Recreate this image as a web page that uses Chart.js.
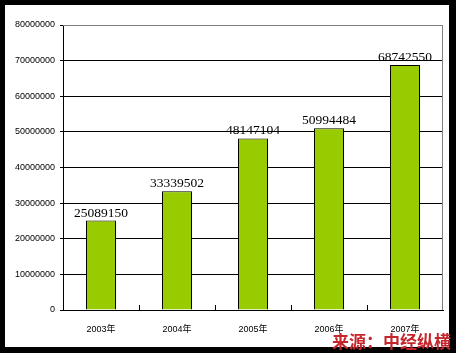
<!DOCTYPE html>
<html>
<head>
<meta charset="utf-8">
<script src="https://cdn.jsdelivr.net/npm/chart.js@4/dist/chart.umd.min.js"></script>
<style>
  html, body { margin: 0; padding: 0; background: #000; }
  #wrap { position: relative; width: 456px; height: 353px; background: #000; }
  #inner { position: absolute; left: 5px; top: 5px; width: 444px; height: 342px; background: #fff; }
  canvas { position: absolute; left: 0; top: 0; }
  #src { position: absolute; left: 332px; top: 331px; font: bold 17px "Noto Sans CJK SC", sans-serif; color: #c4262b; white-space: nowrap; line-height: 20px; }
</style>
</head>
<body>
<div id="wrap">
  <div id="inner"></div>
  <canvas id="c" width="456" height="353"></canvas>
  <div id="src">来源：中经纵横</div>
</div>
<script>
const categories = ["2003年", "2004年", "2005年", "2006年", "2007年"];
const values = [25089150, 33339502, 48147104, 50994484, 68742550];
const yTicks = [0, 10000000, 20000000, 30000000, 40000000, 50000000, 60000000, 70000000, 80000000];

const framePlugin = {
  id: 'frame',
  beforeDatasetsDraw(chart) {
    const { ctx, chartArea: a, scales: { x } } = chart;
    ctx.save();
    ctx.strokeStyle = '#808080';
    ctx.lineWidth = 1;
    ctx.beginPath();
    ctx.moveTo(a.left, a.top + 0.5);
    ctx.lineTo(a.right - 0.5, a.top + 0.5);
    ctx.lineTo(a.right - 0.5, a.bottom);
    ctx.stroke();
    ctx.strokeStyle = '#000';
    const n = categories.length;
    for (let i = 1; i < n; i++) {
      const px = Math.round((x.getPixelForValue(i - 1) + x.getPixelForValue(i)) / 2) + 0.5;
      ctx.beginPath();
      ctx.moveTo(px, a.bottom);
      ctx.lineTo(px, a.bottom - 5);
      ctx.stroke();
    }
    ctx.restore();
  },
  afterDatasetsDraw(chart) {
    const { ctx } = chart;
    const meta = chart.getDatasetMeta(0);
    ctx.save();
    ctx.font = '13.5px "Liberation Serif", serif';
    ctx.fillStyle = '#000';
    ctx.textAlign = 'center';
    ctx.textBaseline = 'alphabetic';
    meta.data.forEach((bar, i) => {
      ctx.fillText(String(values[i]), bar.x, bar.y - 4);
    });
    ctx.restore();
  }
};

new Chart(document.getElementById('c'), {
  type: 'bar',
  data: {
    labels: categories,
    datasets: [{
      data: values,
      backgroundColor: '#99cc00',
      borderColor: '#000',
      borderWidth: 1,
      borderSkipped: 'bottom',
      barPercentage: 0.395,
      categoryPercentage: 1.0
    }]
  },
  options: {
    responsive: false,
    animation: false,
    devicePixelRatio: 1,
    layout: { padding: { top: 25, right: 13, left: 0, bottom: 0 } },
    plugins: { legend: { display: false }, tooltip: { enabled: false } },
    scales: {
      x: {
        grid: { display: false },
        border: { display: true, color: '#000', width: 1 },
        ticks: { color: '#000', font: { family: '"Liberation Sans", "Noto Sans CJK SC", sans-serif', size: 9 }, padding: 6, maxRotation: 0 },
        afterFit(s) { s.height = 43; }
      },
      y: {
        min: 0, max: 80000000,
        afterBuildTicks(s) { s.ticks = yTicks.map(v => ({ value: v })); },
        grid: {
          color: (c) => c.tick && c.tick.value === 80000000 ? '#808080' : '#000',
          tickColor: '#000',
          tickLength: 3,
          drawTicks: true
        },
        border: { display: true, color: '#000', width: 1 },
        ticks: { color: '#000', font: { family: '"Liberation Sans", sans-serif', size: 9 }, padding: 5, callback: v => String(v) },
        afterFit(s) { s.width = 63; }
      }
    }
  },
  plugins: [framePlugin]
});
</script>
</body>
</html>
